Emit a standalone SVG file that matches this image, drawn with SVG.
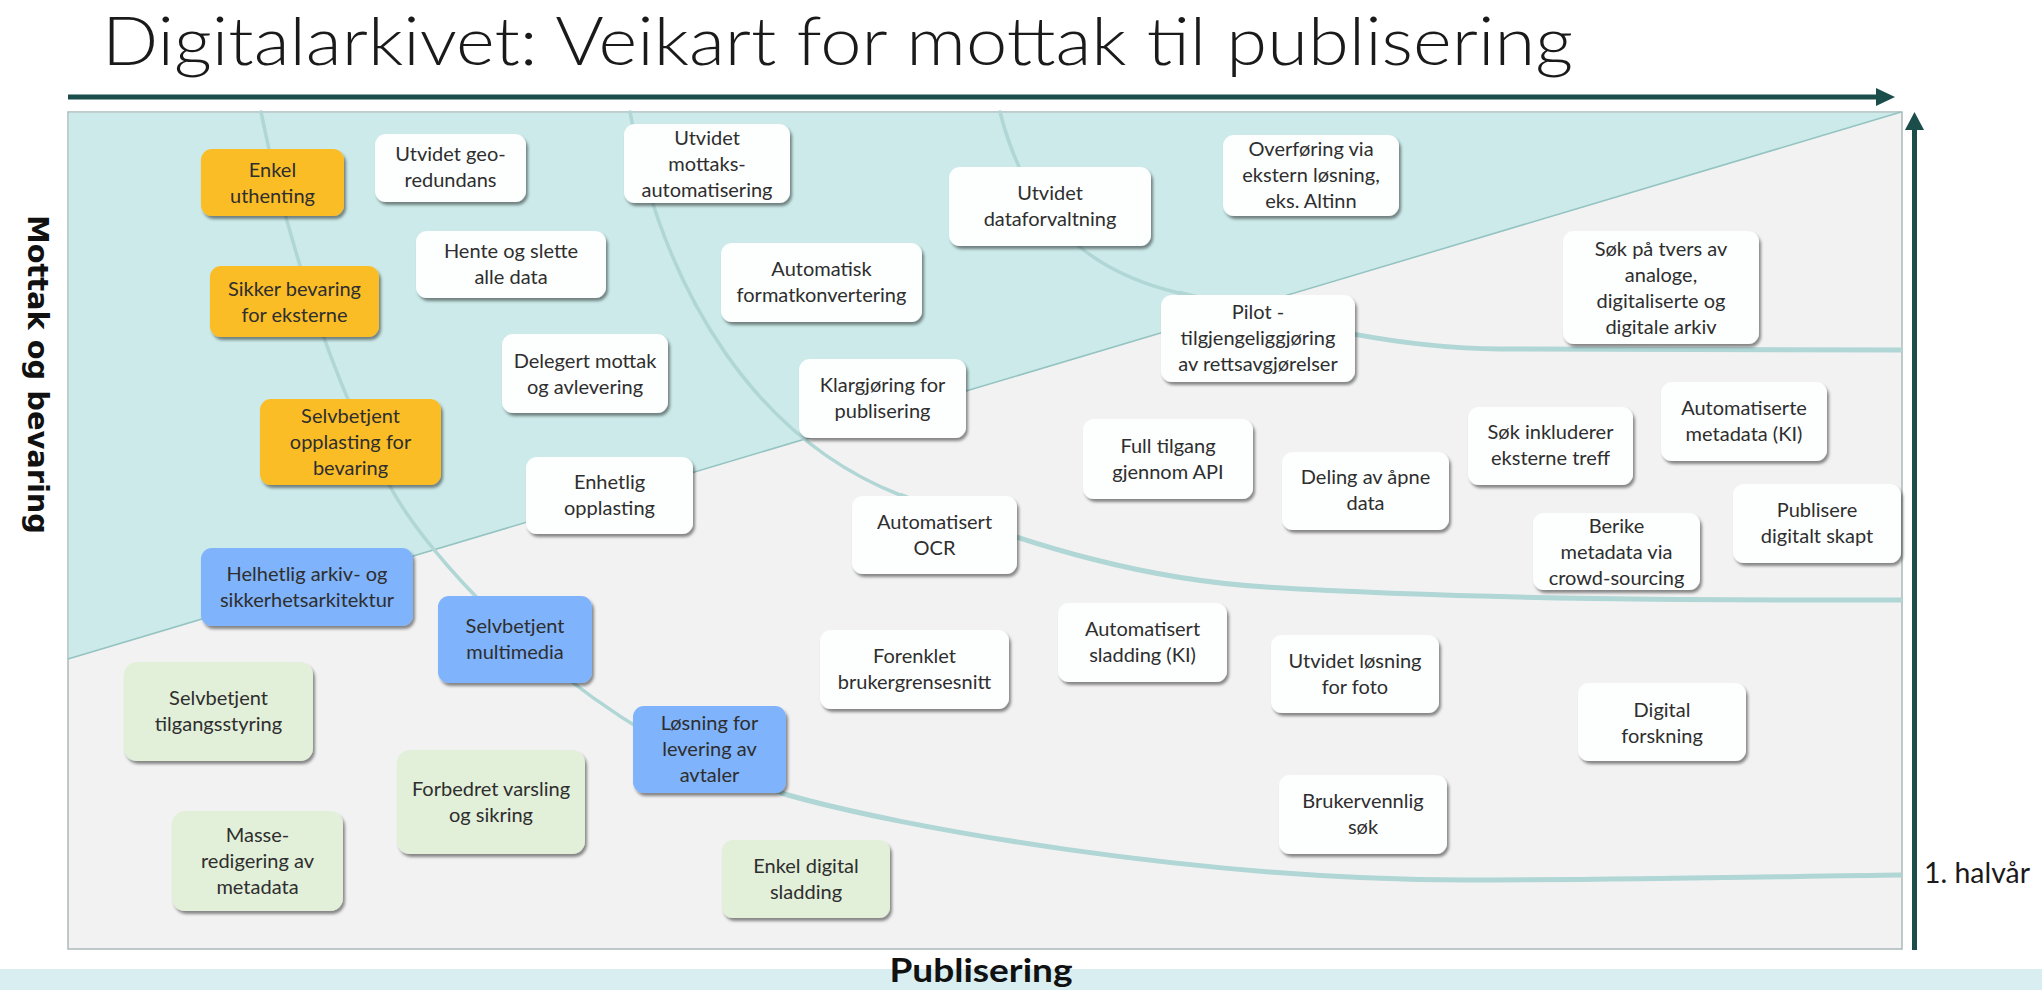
<svg xmlns="http://www.w3.org/2000/svg" width="2042" height="990" viewBox="0 0 2042 990">
<style>
.bx{filter:url(#sh)}
.w{fill:#fdfefe}
.o{fill:#fbbd25}
.b{fill:#7fb3fb}
.g{fill:#e2efd9}
.t{font-family:Lato,"Open Sans","Liberation Sans",sans-serif;font-size:20px;fill:#2e2e2e;text-anchor:middle}
.arc{fill:none;stroke:#b0d6d5;stroke-width:3.5;stroke-linecap:round}
.tail{fill:none;stroke:#b0d6d5;stroke-width:5}
.ax{stroke:#1b4d4b;stroke-width:5;fill:none}
</style>
<defs>
<filter id="sh" x="-10%" y="-10%" width="125%" height="130%">
<feDropShadow dx="2" dy="3" stdDeviation="1.6" flood-color="#000000" flood-opacity="0.45"/>
</filter>
</defs>
<rect x="0" y="0" width="2042" height="990" fill="#ffffff"/>
<rect x="0" y="969" width="2042" height="21" fill="#d9eef0"/>
<text x="102" y="65" font-family="Lato,'Open Sans',sans-serif" font-weight="300" font-size="67" fill="#1a1a1a" textLength="1471" lengthAdjust="spacingAndGlyphs">Digitalarkivet: Veikart for mottak til publisering</text>
<g id="plot">
<rect x="68" y="112" width="1834" height="837" fill="#f2f2f2" stroke="#abb9b9" stroke-width="1.5"/>
<polygon points="68.75,112.75 1901,112.75 68.75,659" fill="#cbeae9"/>
<line x1="68" y1="659" x2="1901" y2="112" stroke="#94c3c1" stroke-width="1.5"/>
</g>
<g id="connectors">
<path class="arc" d="M261,112 C285,230 330,380 392,490 C440,575 600,740 781,793 C900,828 1200,880 1465,880 C1650,880 1800,876 1901,875"/>
<path class="tail" d="M781,793 C900,828 1200,880 1465,880 C1650,880 1800,876 1901,875"/>
<path class="arc" d="M630,112 C665,300 760,440 900,495 C1040,550 1150,580 1266,587 C1500,601 1750,600 1901,600"/>
<path class="tail" d="M900,495 C1040,550 1150,580 1266,587 C1500,601 1750,600 1901,600"/>
<path class="arc" d="M1000,112 C1025,210 1080,270 1179,293 C1280,318 1380,348 1500,349 C1650,350 1800,350 1901,350"/>
<path class="tail" d="M1179,293 C1280,318 1380,348 1500,349 C1650,350 1800,350 1901,350"/>
</g>
<g id="axes">
<line class="ax" x1="68" y1="97" x2="1878" y2="97"/>
<polygon points="1876,88 1895,97 1876,106" fill="#1b4d4b"/>
<line class="ax" x1="1914.5" y1="950" x2="1914.5" y2="128"/>
<polygon points="1905,130 1914.5,112 1924,130" fill="#1b4d4b"/>
</g>
<text transform="translate(28,215) rotate(90)" font-family="'DejaVu Sans',sans-serif" font-weight="bold" font-size="29" fill="#111111" textLength="319" lengthAdjust="spacingAndGlyphs">Mottak og bevaring</text>
<text x="981" y="982" font-family="Lato,'Open Sans',sans-serif" font-weight="bold" font-size="32" fill="#111111" text-anchor="middle" textLength="183" lengthAdjust="spacingAndGlyphs">Publisering</text>
<text x="1924" y="883" font-family="Lato,'Open Sans',sans-serif" font-size="28" fill="#1a1a1a" textLength="106" lengthAdjust="spacingAndGlyphs">1. halvår</text>

<g id="n1"><rect class="bx o" x="201" y="149" width="143" height="67" rx="11"/><text class="t"><tspan x="272.5" y="176.5">Enkel</tspan><tspan x="272.5" y="202.5">uthenting</tspan></text></g>
<g id="n2"><rect class="bx w" x="375" y="134" width="151" height="68" rx="11"/><text class="t"><tspan x="450.5" y="161">Utvidet geo-</tspan><tspan x="450.5" y="187">redundans</tspan></text></g>
<g id="n3"><rect class="bx w" x="624" y="124" width="166" height="79" rx="11"/><text class="t"><tspan x="707" y="144.5">Utvidet</tspan><tspan x="707" y="170.5">mottaks-</tspan><tspan x="707" y="196.5">automatisering</tspan></text></g>
<g id="n4"><rect class="bx w" x="949" y="167" width="202" height="79" rx="11"/><text class="t"><tspan x="1050" y="200">Utvidet</tspan><tspan x="1050" y="226">dataforvaltning</tspan></text></g>
<g id="n5"><rect class="bx w" x="1223" y="135" width="176" height="81" rx="11"/><text class="t"><tspan x="1311" y="156">Overføring via</tspan><tspan x="1311" y="182">ekstern løsning,</tspan><tspan x="1311" y="208">eks. Altinn</tspan></text></g>
<g id="n6"><rect class="bx w" x="416" y="231" width="190" height="67" rx="11"/><text class="t"><tspan x="511" y="258">Hente og slette</tspan><tspan x="511" y="284">alle data</tspan></text></g>
<g id="n7"><rect class="bx o" x="210" y="266" width="169" height="71" rx="11"/><text class="t"><tspan x="294.5" y="295.5">Sikker bevaring</tspan><tspan x="294.5" y="321.5">for eksterne</tspan></text></g>
<g id="n8"><rect class="bx w" x="721" y="243" width="201" height="79" rx="11"/><text class="t"><tspan x="821.5" y="276">Automatisk</tspan><tspan x="821.5" y="302">formatkonvertering</tspan></text></g>
<g id="n9"><rect class="bx w" x="1563" y="231" width="196" height="113" rx="11"/><text class="t"><tspan x="1661" y="255.5">Søk på tvers av</tspan><tspan x="1661" y="281.5">analoge,</tspan><tspan x="1661" y="307.5">digitaliserte og</tspan><tspan x="1661" y="333.5">digitale arkiv</tspan></text></g>
<g id="n10"><rect class="bx w" x="1161" y="295" width="194" height="87" rx="11"/><text class="t"><tspan x="1258" y="319">Pilot -</tspan><tspan x="1258" y="345">tilgjengeliggjøring</tspan><tspan x="1258" y="371">av rettsavgjørelser</tspan></text></g>
<g id="n11"><rect class="bx w" x="502" y="334" width="166" height="79" rx="11"/><text class="t"><tspan x="585" y="367.5">Delegert mottak</tspan><tspan x="585" y="393.5">og avlevering</tspan></text></g>
<g id="n12"><rect class="bx w" x="799" y="359" width="167" height="79" rx="11"/><text class="t"><tspan x="882.5" y="392">Klargjøring for</tspan><tspan x="882.5" y="418">publisering</tspan></text></g>
<g id="n13"><rect class="bx o" x="260" y="399" width="181" height="86" rx="11"/><text class="t"><tspan x="350.5" y="422.5">Selvbetjent</tspan><tspan x="350.5" y="448.5">opplasting for</tspan><tspan x="350.5" y="474.5">bevaring</tspan></text></g>
<g id="n14"><rect class="bx w" x="1661" y="382" width="166" height="79" rx="11"/><text class="t"><tspan x="1744" y="414.5">Automatiserte</tspan><tspan x="1744" y="440.5">metadata (KI)</tspan></text></g>
<g id="n15"><rect class="bx w" x="1083" y="419" width="170" height="80" rx="11"/><text class="t"><tspan x="1168" y="452.5">Full tilgang</tspan><tspan x="1168" y="478.5">gjennom API</tspan></text></g>
<g id="n16"><rect class="bx w" x="1468" y="407" width="165" height="78" rx="11"/><text class="t"><tspan x="1550.5" y="439">Søk inkluderer</tspan><tspan x="1550.5" y="465">eksterne treff</tspan></text></g>
<g id="n17"><rect class="bx w" x="1282" y="452" width="167" height="78" rx="11"/><text class="t"><tspan x="1365.5" y="484">Deling av åpne</tspan><tspan x="1365.5" y="510">data</tspan></text></g>
<g id="n18"><rect class="bx w" x="526" y="457" width="167" height="77" rx="11"/><text class="t"><tspan x="609.5" y="488.5">Enhetlig</tspan><tspan x="609.5" y="514.5">opplasting</tspan></text></g>
<g id="n19"><rect class="bx w" x="852" y="496" width="165" height="78" rx="11"/><text class="t"><tspan x="934.5" y="528.5">Automatisert</tspan><tspan x="934.5" y="554.5">OCR</tspan></text></g>
<g id="n20"><rect class="bx w" x="1733" y="484" width="168" height="79" rx="11"/><text class="t"><tspan x="1817" y="517">Publisere</tspan><tspan x="1817" y="543">digitalt skapt</tspan></text></g>
<g id="n21"><rect class="bx w" x="1533" y="513" width="167" height="77" rx="11"/><text class="t"><tspan x="1616.5" y="532.5">Berike</tspan><tspan x="1616.5" y="558.5">metadata via</tspan><tspan x="1616.5" y="584.5">crowd-sourcing</tspan></text></g>
<g id="n22"><rect class="bx b" x="201" y="548" width="212" height="78" rx="11"/><text class="t"><tspan x="307" y="580.5">Helhetlig arkiv- og</tspan><tspan x="307" y="606.5">sikkerhetsarkitektur</tspan></text></g>
<g id="n23"><rect class="bx b" x="438" y="596" width="154" height="87" rx="11"/><text class="t"><tspan x="515" y="632.5">Selvbetjent</tspan><tspan x="515" y="658.5">multimedia</tspan></text></g>
<g id="n24"><rect class="bx w" x="1058" y="603" width="169" height="79" rx="11"/><text class="t"><tspan x="1142.5" y="635.5">Automatisert</tspan><tspan x="1142.5" y="661.5">sladding (KI)</tspan></text></g>
<g id="n25"><rect class="bx w" x="820" y="630" width="189" height="79" rx="11"/><text class="t"><tspan x="914.5" y="663">Forenklet</tspan><tspan x="914.5" y="689">brukergrensesnitt</tspan></text></g>
<g id="n26"><rect class="bx w" x="1271" y="635" width="168" height="78" rx="11"/><text class="t"><tspan x="1355" y="668">Utvidet løsning</tspan><tspan x="1355" y="694">for foto</tspan></text></g>
<g id="n27"><rect class="bx g" x="124" y="662" width="189" height="99" rx="13"/><text class="t"><tspan x="218.5" y="705">Selvbetjent</tspan><tspan x="218.5" y="731">tilgangsstyring</tspan></text></g>
<g id="n28"><rect class="bx b" x="633" y="706" width="153" height="87" rx="11"/><text class="t"><tspan x="709.5" y="729.5">Løsning for</tspan><tspan x="709.5" y="755.5">levering av</tspan><tspan x="709.5" y="781.5">avtaler</tspan></text></g>
<g id="n29"><rect class="bx w" x="1578" y="683" width="168" height="78" rx="11"/><text class="t"><tspan x="1662" y="716.5">Digital</tspan><tspan x="1662" y="742.5">forskning</tspan></text></g>
<g id="n30"><rect class="bx g" x="397" y="750" width="188" height="104" rx="13"/><text class="t"><tspan x="491" y="795.5">Forbedret varsling</tspan><tspan x="491" y="821.5">og sikring</tspan></text></g>
<g id="n31"><rect class="bx w" x="1279" y="775" width="168" height="79" rx="11"/><text class="t"><tspan x="1363" y="808">Brukervennlig</tspan><tspan x="1363" y="834">søk</tspan></text></g>
<g id="n32"><rect class="bx g" x="172" y="811" width="171" height="100" rx="13"/><text class="t"><tspan x="257.5" y="842">Masse-</tspan><tspan x="257.5" y="868">redigering av</tspan><tspan x="257.5" y="894">metadata</tspan></text></g>
<g id="n33"><rect class="bx g" x="722" y="840" width="168" height="78" rx="11"/><text class="t"><tspan x="806" y="873">Enkel digital</tspan><tspan x="806" y="899">sladding</tspan></text></g>
</svg>
